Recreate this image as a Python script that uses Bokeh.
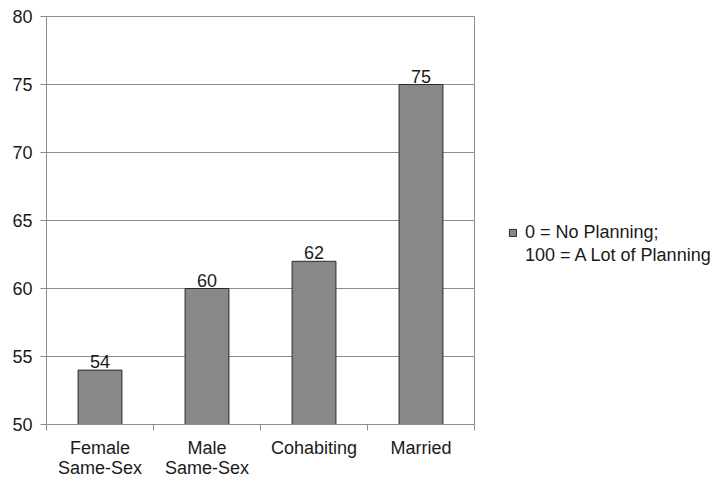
from bokeh.plotting import figure
from bokeh.models import (Range1d, FixedTicker, ColumnDataSource, Legend, LegendItem)
from bokeh.core.properties import value
from bokeh.embed import file_html
from bokeh.resources import INLINE

categories = ["Female\nSame-Sex", "Male\nSame-Sex", "Cohabiting", "Married"]
values = [54, 60, 62, 75]
y_ticks = [50, 55, 60, 65, 70, 75, 80]
legend_lines = ["0 = No Planning;", "100 = A Lot of Planning"]

FONT = "Liberation Sans"
FS = "18px"

x_pos = [i + 0.5 for i in range(len(categories))]
src = ColumnDataSource(dict(x=x_pos, top=values, lab=[str(v) for v in values]))

p = figure(width=699, height=463, output_backend="svg", toolbar_location=None,
           x_range=Range1d(0, 4), y_range=Range1d(50, 80),
           frame_width=428, frame_height=408,
           min_border_left=46, min_border_top=16, min_border_right=225, min_border_bottom=39)
p.background_fill_color = "white"
p.border_fill_color = "white"
p.outline_line_color = "#8c8c8c"
p.outline_line_width = 1

bars = p.vbar(x="x", top="top", bottom=50, width=0.41, source=src,
              fill_color="#888888", line_color="#2a2a2a", line_width=1)

p.text(x="x", y="top", text="lab", source=src, text_align="center",
       text_baseline="bottom", y_offset=-2,
       text_font=value(FONT), text_font_size=FS, text_color="#1a1a1a")

# invisible renderer for the legend's second text line
blank = p.scatter(x=[], y=[], size=0, fill_alpha=0, line_alpha=0)

# x axis
xa = p.xaxis[0]
xa.ticker = FixedTicker(ticks=x_pos, minor_ticks=[0, 1, 2, 3, 4])
xa.major_label_overrides = {x: c for x, c in zip(x_pos, categories)}
xa.major_tick_out = 0
xa.major_tick_in = 0
xa.minor_tick_out = 6
xa.minor_tick_in = 0
xa.minor_tick_line_color = "#8c8c8c"
xa.axis_line_color = "#8c8c8c"
xa.major_label_standoff = 7
xa.major_label_text_font = FONT
xa.major_label_text_font_size = FS
xa.major_label_text_color = "#1a1a1a"
xa.major_label_text_line_height = 1.0

ya = p.yaxis[0]
ya.ticker = FixedTicker(ticks=y_ticks)
ya.major_tick_out = 6
ya.major_tick_in = 0
ya.minor_tick_line_color = None
ya.major_tick_line_color = "#8c8c8c"
ya.axis_line_color = "#8c8c8c"
ya.major_label_standoff = 8
ya.major_label_text_font = FONT
ya.major_label_text_font_size = FS
ya.major_label_text_color = "#1a1a1a"

p.xgrid.grid_line_color = None
p.ygrid.ticker = FixedTicker(ticks=y_ticks)
p.ygrid.grid_line_color = "#8c8c8c"
p.ygrid.grid_line_width = 1

legend = Legend(items=[LegendItem(label=legend_lines[0], renderers=[bars]),
                       LegendItem(label=legend_lines[1], renderers=[blank])],
                location=(34, 158), orientation="vertical",
                padding=0, margin=0, spacing=2,
                glyph_width=9, glyph_height=9, label_standoff=8,
                border_line_color=None, background_fill_alpha=0,
                label_text_font=FONT, label_text_font_size=FS,
                label_text_color="#1a1a1a", label_height=20)
p.add_layout(legend, "right")

open("out.html", "w").write(file_html(p, INLINE))
